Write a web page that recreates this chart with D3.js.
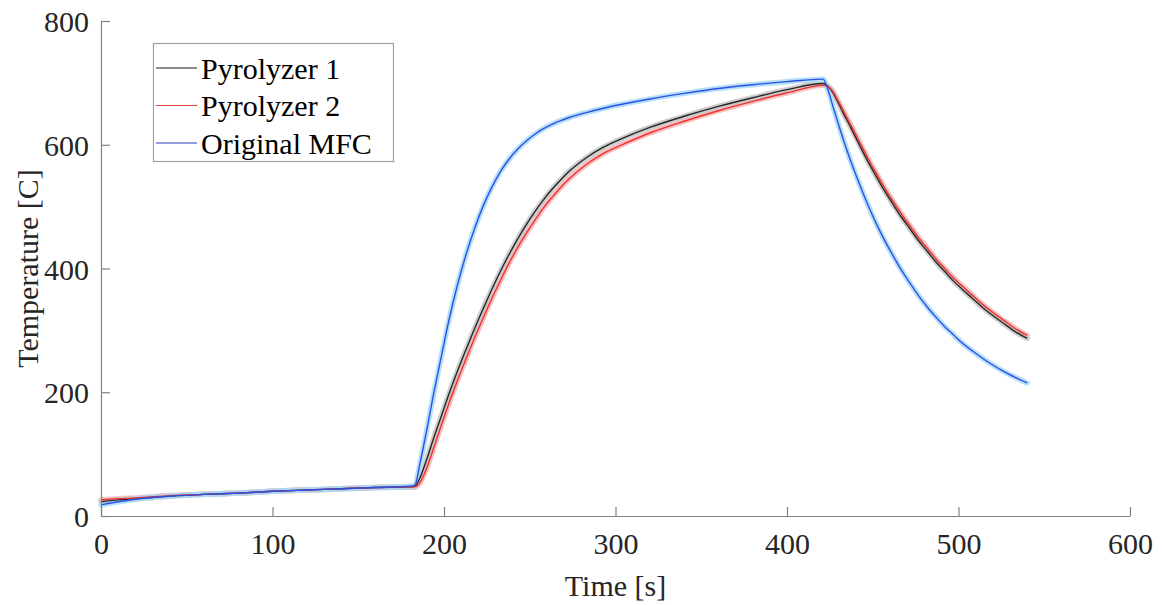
<!DOCTYPE html>
<html>
<head>
<meta charset="utf-8">
<script src="https://cdn.jsdelivr.net/npm/d3@7"></script>
<style>
  html, body { margin: 0; padding: 0; background: #fff; }
  svg { display: block; }
</style>
</head>
<body>
<svg id="chart" width="1162" height="605"></svg>
<script>
// ---- data ----
const time = [0, 10, 20, 30, 40, 60, 80, 100, 120, 140, 160, 180,
  183, 186, 190, 194, 198, 203, 208, 213, 218, 223, 228, 233, 238, 243, 248, 253, 258, 263, 268, 273,
  283, 293, 303, 320, 340, 360, 380, 400, 421,
  424, 427, 430, 433, 437, 442, 447, 452, 457, 462, 467, 472, 477, 482, 487, 492, 497, 502, 508, 514, 520, 526, 533, 540];

const pyrolyzer1 = [23, 26, 28, 30, 32, 35, 37, 40, 42, 44, 46, 47,
  48, 62, 92, 126, 158, 198, 235, 270, 304, 336, 367, 396, 423, 448, 471, 492, 511, 528, 543, 557,
  579, 596, 609, 628, 646, 662, 676, 689, 699,
  694, 683, 667, 650, 629, 601, 574, 549, 525, 503, 482, 463, 444, 427, 410, 395, 380, 367, 352, 337, 324, 312, 298, 287];

const pyrolyzer2 = [26, 28, 29, 31, 33, 35, 37, 40, 42, 44, 46, 47,
  47, 54, 78, 110, 143, 183, 220, 255, 289, 321, 352, 381, 409, 434, 457, 478, 498, 515, 531, 545,
  568, 586, 599, 619, 638, 655, 670, 684, 696,
  694, 685, 670, 654, 633, 606, 579, 554, 530, 508, 487, 468, 449, 432, 415, 400, 385, 372, 357, 342, 329, 317, 303, 292];

const originalMFC = [18, 23, 27, 30, 32, 35, 37, 40, 42, 44, 46, 48,
  50, 85, 140, 198, 252, 318, 375, 424, 466, 502, 532, 557, 577, 593, 606, 617, 626, 633, 639, 644,
  652, 659, 665, 674, 683, 691, 697, 702, 706,
  688, 660, 633, 607, 575, 538, 504, 473, 445, 420, 396, 375, 355, 337, 321, 306, 293, 280, 267, 255, 244, 234, 224, 215];

const seriesNames = ["Pyrolyzer 1", "Pyrolyzer 2", "Original MFC"];
const xTicks = [0, 100, 200, 300, 400, 500, 600];
const yTicks = [0, 200, 400, 600, 800];
const xLabel = "Time [s]";
const yLabel = "Temperature [C]";

// ---- styles ----
const lineColors = ["#262626", "#f03030", "#2a50e8"];
const bandColors = ["#c6c6c6", "#f7b4b4", "#a9d9f8"];
const legendColors = ["#1a1a1a", "#e04040", "#2a3ab8"];
const font = "'Liberation Serif', Tinos, 'Times New Roman', Times, 'Nimbus Roman', 'Nimbus Roman No9 L', FreeSerif, 'Noto Serif', 'DejaVu Serif', 'Noto Serif CJK SC', serif";

const svg = d3.select("#chart");
const m = { left: 101, right: 1130, top: 21, bottom: 516 };

const x = d3.scaleLinear().domain([0, 600]).range([m.left, m.right]);
const y = d3.scaleLinear().domain([0, 800]).range([m.bottom, m.top]);

const seriesData = [pyrolyzer1, pyrolyzer2, originalMFC].map(vals =>
  time.map((t, i) => ({ t, v: vals[i] }))
);

const line = d3.line()
  .x(d => x(d.t))
  .y(d => y(d.v))
  .curve(d3.curveMonotoneX);

const plot = svg.append("g");

// shaded bands (drawn underneath)
[1, 0, 2].forEach(i => {
  plot.append("path")
    .datum(seriesData[i])
    .attr("d", line)
    .attr("fill", "none")
    .attr("stroke", bandColors[i])
    .attr("stroke-width", 5.5)
    .attr("stroke-linejoin", "round")
    .attr("stroke-linecap", "round")
    .attr("opacity", 0.85);
});

// lines
[0, 1, 2].forEach(i => {
  plot.append("path")
    .datum(seriesData[i])
    .attr("d", line)
    .attr("fill", "none")
    .attr("stroke", lineColors[i])
    .attr("stroke-width", 1.4)
    .attr("stroke-linejoin", "round");
});

// axes
const axisColor = "#808080";
const xAxis = d3.axisBottom(x).tickValues(xTicks).tickSizeInner(-9).tickSizeOuter(0).tickPadding(14);
const yAxis = d3.axisLeft(y).tickValues(yTicks).tickSizeInner(-9).tickSizeOuter(0).tickPadding(12);

const gx = svg.append("g").attr("transform", `translate(0,${m.bottom})`).call(xAxis);
const gy = svg.append("g").attr("transform", `translate(${m.left},0)`).call(yAxis);

[gx, gy].forEach(g => {
  g.attr("font-family", null).attr("font-size", null);
  g.select(".domain").attr("stroke", axisColor).attr("stroke-width", 1.2);
  g.selectAll(".tick line").attr("stroke", axisColor).attr("stroke-width", 1.2);
  g.selectAll(".tick text")
    .attr("fill", "#262626")
    .style("font-family", font)
    .style("font-size", "30px");
});
gx.selectAll(".tick text").attr("dy", "0.71em").attr("y", 17);
gy.selectAll(".tick text").attr("dy", "0.35em");

// axis labels
svg.append("text")
  .attr("x", (m.left + m.right) / 2)
  .attr("y", 596)
  .attr("text-anchor", "middle")
  .attr("fill", "#262626")
  .style("font-family", font)
  .style("font-size", "30px")
  .text(xLabel);

svg.append("text")
  .attr("transform", `translate(38,${(m.top + m.bottom) / 2}) rotate(-90)`)
  .attr("text-anchor", "middle")
  .attr("fill", "#262626")
  .style("font-family", font)
  .style("font-size", "30px")
  .text(yLabel);

// legend
const lg = svg.append("g");
lg.append("rect")
  .attr("x", 153.5).attr("y", 43.5)
  .attr("width", 240).attr("height", 118)
  .attr("fill", "#fff")
  .attr("stroke", "#a0a0a0")
  .attr("stroke-width", 1.2);

seriesNames.forEach((name, i) => {
  const cy = 68 + i * 37.5;
  lg.append("line")
    .attr("x1", 156).attr("x2", 197)
    .attr("y1", cy).attr("y2", cy)
    .attr("stroke", legendColors[i])
    .attr("stroke-width", 1.2);
  lg.append("text")
    .attr("x", 201)
    .attr("y", cy)
    .attr("dy", "0.35em")
    .attr("fill", "#000")
    .style("font-family", font)
    .style("font-size", "30px")
    .text(name);
});
</script>
</body>
</html>
